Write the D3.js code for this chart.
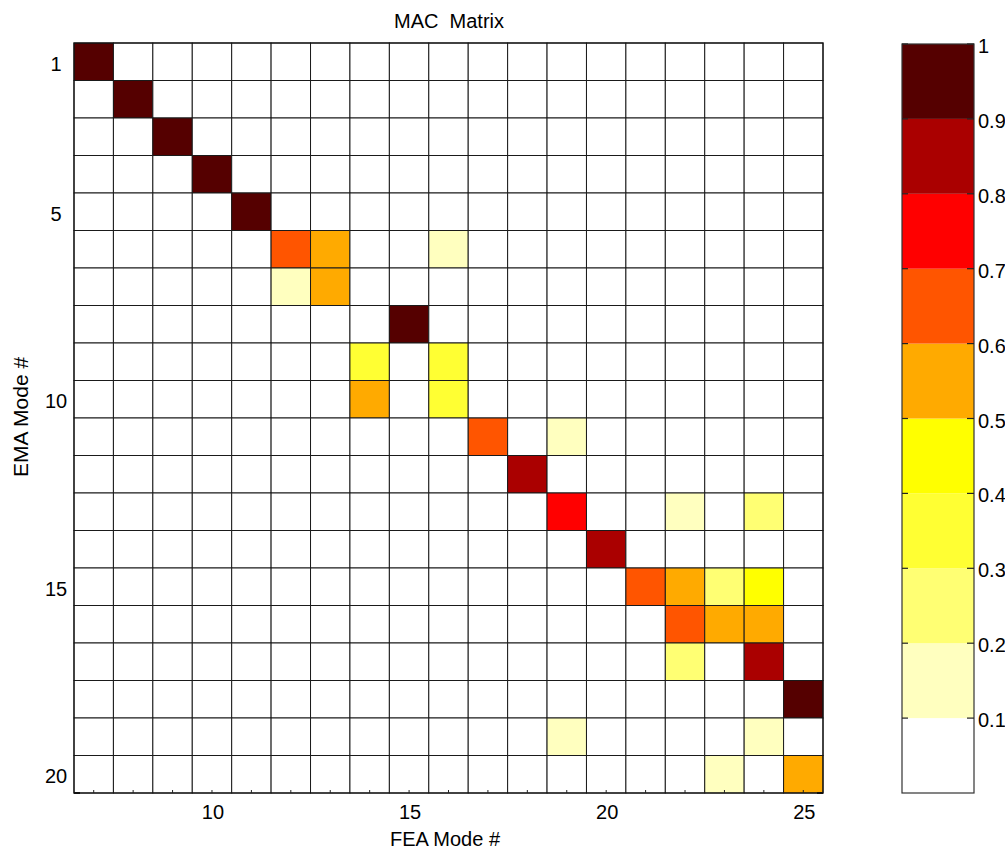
<!DOCTYPE html>
<html>
<head>
<meta charset="utf-8">
<script src="https://cdn.jsdelivr.net/npm/d3@7"></script>
<style>
  html, body { margin: 0; padding: 0; background: #fff; overflow: hidden; }
  svg { display: block; font-family: "Liberation Sans", Arial, sans-serif; }
</style>
</head>
<body>
<svg id="chart" width="1005" height="852"></svg>
<script>
// ---------- data ----------
const feaModes = [7, 8, 9, 10, 11, 12, 13, 14, 15, 16, 17, 18, 19, 20, 21, 22, 23, 24, 25];
const emaModes = [1, 2, 3, 4, 5, 6, 7, 8, 9, 10, 11, 12, 13, 14, 15, 16, 17, 18, 19, 20];
// non-zero MAC entries: [EMA mode, FEA mode, MAC value]
const macEntries = [
  [1, 7, 0.97], [2, 8, 0.97], [3, 9, 0.97], [4, 10, 0.97], [5, 11, 0.96],
  [6, 12, 0.65], [6, 13, 0.55], [6, 16, 0.15],
  [7, 12, 0.15], [7, 13, 0.55],
  [8, 15, 0.95],
  [9, 14, 0.35], [9, 16, 0.35],
  [10, 14, 0.55], [10, 16, 0.35],
  [11, 17, 0.65], [11, 19, 0.15],
  [12, 18, 0.85],
  [13, 19, 0.75], [13, 22, 0.15], [13, 24, 0.25],
  [14, 20, 0.85],
  [15, 21, 0.65], [15, 22, 0.55], [15, 23, 0.25], [15, 24, 0.45],
  [16, 22, 0.65], [16, 23, 0.55], [16, 24, 0.55],
  [17, 22, 0.25], [17, 24, 0.85],
  [18, 25, 0.97],
  [19, 19, 0.15], [19, 24, 0.15],
  [20, 23, 0.15], [20, 25, 0.55]
];
const xTickLabels = [10, 15, 20, 25];
const yTickLabels = [1, 5, 10, 15, 20];
const colorThresholds = [0.1, 0.2, 0.3, 0.4, 0.5, 0.6, 0.7, 0.8, 0.9];
const colorLevels = ["#ffffff", "#ffffbf", "#ffff73", "#ffff33", "#ffff00",
                     "#ffaa00", "#ff5500", "#ff0000", "#aa0000", "#550000"];
const colorbarTicks = [0.1, 0.2, 0.3, 0.4, 0.5, 0.6, 0.7, 0.8, 0.9, 1];

// full matrix
const lookup = new Map(macEntries.map(d => [d[0] + "_" + d[1], d[2]]));
const cells = [];
emaModes.forEach(e => feaModes.forEach(f => {
  cells.push({ ema: e, fea: f, value: lookup.get(e + "_" + f) || 0 });
}));

// ---------- layout ----------
const svg = d3.select("#chart");
const plot = { left: 74, right: 823, top: 43, bottom: 793 };

const x = d3.scaleBand().domain(feaModes).range([plot.left, plot.right]).padding(0);
const y = d3.scaleBand().domain(emaModes).range([plot.top, plot.bottom]).padding(0);
const color = d3.scaleThreshold().domain(colorThresholds).range(colorLevels);

// cells
svg.append("g").selectAll("rect").data(cells).join("rect")
  .attr("x", d => x(d.fea))
  .attr("y", d => y(d.ema))
  .attr("width", x.bandwidth())
  .attr("height", y.bandwidth())
  .attr("fill", d => color(d.value))
  .attr("stroke", "#1a1a1a")
  .attr("stroke-width", 1);

// outer frame
svg.append("rect")
  .attr("x", plot.left).attr("y", plot.top)
  .attr("width", plot.right - plot.left).attr("height", plot.bottom - plot.top)
  .attr("fill", "none").attr("stroke", "#111").attr("stroke-width", 1.2);

// bottom axis: minor inward ticks at each column centre
const xAxis = svg.append("g");
xAxis.selectAll("line").data(feaModes).join("line")
  .attr("x1", d => x(d) + x.bandwidth() / 2)
  .attr("x2", d => x(d) + x.bandwidth() / 2)
  .attr("y1", plot.bottom).attr("y2", plot.bottom - 3)
  .attr("stroke", "#222").attr("stroke-width", 1);
xAxis.selectAll("text").data(xTickLabels).join("text")
  .attr("x", d => x(d) + x.bandwidth() / 2 + 1)
  .attr("y", 819)
  .attr("text-anchor", "middle")
  .attr("font-size", 20)
  .text(d => d);

// corner ticks
svg.append("line").attr("x1", plot.left).attr("x2", plot.left + 6)
  .attr("y1", plot.bottom).attr("y2", plot.bottom).attr("stroke", "#111").attr("stroke-width", 2);
svg.append("line").attr("x1", plot.right - 6).attr("x2", plot.right)
  .attr("y1", plot.bottom).attr("y2", plot.bottom).attr("stroke", "#111").attr("stroke-width", 2);

// left axis labels
svg.append("g").selectAll("text").data(yTickLabels).join("text")
  .attr("x", 56)
  .attr("y", d => y(d) + y.bandwidth() / 2 + 2)
  .attr("text-anchor", "middle")
  .attr("dominant-baseline", "central")
  .attr("font-size", 20)
  .text(d => d);

// titles
svg.append("text").attr("x", 449).attr("y", 28)
  .attr("text-anchor", "middle").attr("font-size", 20)
  .attr("xml:space", "preserve")
  .text("MAC  Matrix");
svg.append("text").attr("x", 445).attr("y", 846)
  .attr("text-anchor", "middle").attr("font-size", 20)
  .text("FEA Mode #");
svg.append("text")
  .attr("transform", "translate(28,417) rotate(-90)")
  .attr("text-anchor", "middle").attr("font-size", 21)
  .text("EMA Mode #");

// ---------- colorbar ----------
const cb = { left: 902, right: 974, top: 44, bottom: 793 };
const cy = d3.scaleLinear().domain([0, 1]).range([cb.bottom, cb.top]);
const bins = colorLevels.map((c, i) => ({ lo: i === 0 ? 0 : colorThresholds[i - 1],
                                         hi: i === colorLevels.length - 1 ? 1 : colorThresholds[i], c }));
svg.append("g").selectAll("rect").data(bins).join("rect")
  .attr("x", cb.left).attr("width", cb.right - cb.left)
  .attr("y", d => cy(d.hi)).attr("height", d => cy(d.lo) - cy(d.hi))
  .attr("fill", d => d.c);
svg.append("rect")
  .attr("x", cb.left).attr("y", cb.top)
  .attr("width", cb.right - cb.left).attr("height", cb.bottom - cb.top)
  .attr("fill", "none").attr("stroke", "#333").attr("stroke-width", 1.2);
const cbt = svg.append("g");
cbt.selectAll("line.l").data(colorbarTicks).join("line").attr("class", "l")
  .attr("x1", cb.left).attr("x2", cb.left + 6)
  .attr("y1", d => cy(d)).attr("y2", d => cy(d))
  .attr("stroke", "#222").attr("stroke-width", 1.2);
cbt.selectAll("line.r").data(colorbarTicks).join("line").attr("class", "r")
  .attr("x1", cb.right - 7).attr("x2", cb.right)
  .attr("y1", d => cy(d)).attr("y2", d => cy(d))
  .attr("stroke", "#222").attr("stroke-width", 1.2);
cbt.selectAll("text").data(colorbarTicks).join("text")
  .attr("x", 978)
  .attr("y", d => cy(d) + 2)
  .attr("dominant-baseline", "central")
  .attr("font-size", 20)
  .text(d => d === 1 ? "1" : d3.format(".1f")(d));
</script>
</body>
</html>
